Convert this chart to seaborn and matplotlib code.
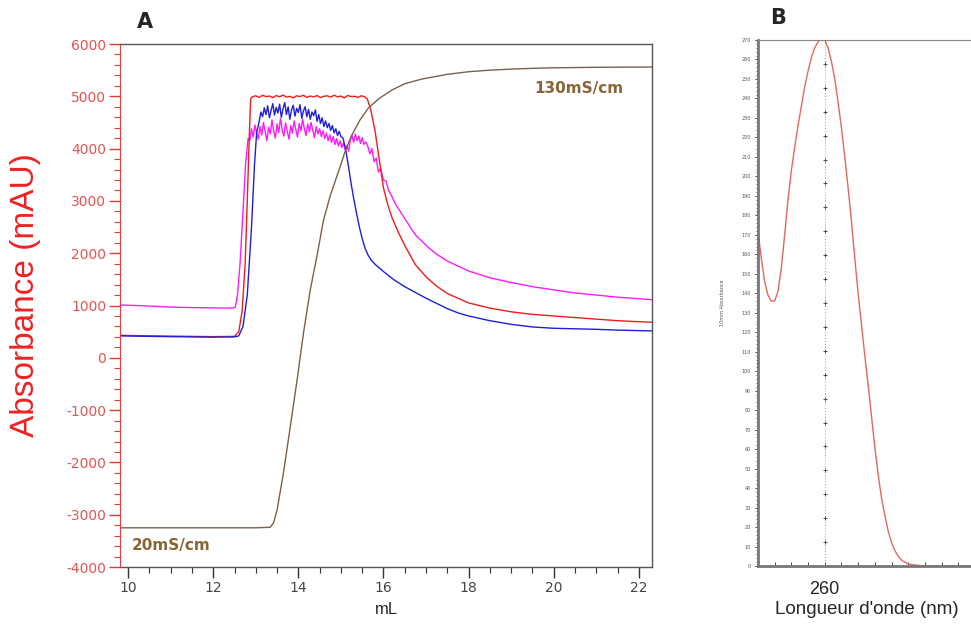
import numpy as np
import pandas as pd
import matplotlib
matplotlib.use("Agg")
import matplotlib.pyplot as plt
from matplotlib.ticker import MultipleLocator
import seaborn as sns

# ---- panel A : chromatogram (mL vs mAU) ----
red_x = [9.81, 10.5, 11.0, 11.5, 12.0, 12.5, 12.6, 12.68, 12.75, 12.8, 12.85, 12.88]
red_y = [430, 420, 415, 410, 405, 410, 500, 900, 1800, 3000, 4300, 4950]
red_plateau = [4990, 5010, 4980, 5020, 4995, 5005, 4975, 5015, 4990, 5025, 4985, 5000,
               4970, 5010, 4995, 5020, 4980, 5005, 4990, 5015, 4975, 5000, 5010, 4985,
               5020, 4990, 5005, 4970, 5015, 4995, 5000, 4980, 5010, 4990]
red_tail_x = [15.62, 15.7, 15.8, 15.9, 16.0, 16.1, 16.2, 16.35, 16.5, 16.75, 17.0, 17.25,
              17.5, 18.0, 18.5, 19.0, 19.5, 20.0, 20.5, 21.0, 21.5, 22.0, 22.31]
red_tail_y = [4950, 4750, 4350, 3800, 3250, 2930, 2680, 2400, 2150, 1780, 1550, 1370,
              1230, 1050, 950, 880, 830, 800, 770, 740, 710, 690, 680]

blue_x = [9.81, 10.5, 11.0, 11.5, 12.0, 12.5, 12.6, 12.7, 12.8, 12.9, 12.97, 13.02]
blue_y = [420, 410, 405, 400, 395, 400, 420, 600, 1200, 2500, 3700, 4300]
blue_plateau = [4520, 4700, 4610, 4780, 4650, 4820, 4590, 4730, 4860, 4640, 4790, 4680,
                4850, 4600, 4760, 4880, 4650, 4800, 4560, 4740, 4830, 4620, 4770, 4690,
                4840, 4580, 4720, 4800, 4610, 4750, 4560, 4700, 4630, 4740, 4520, 4650,
                4480, 4590, 4420, 4530, 4400, 4480, 4350, 4440, 4300, 4380, 4250, 4330, 4230]
blue_tail_x = [15.05, 15.12, 15.18, 15.24, 15.3, 15.37, 15.44, 15.5, 15.57, 15.64, 15.72,
               15.8, 15.9, 16.0, 16.25, 16.5, 16.75, 17.0, 17.25, 17.5, 17.75, 18.0, 18.5,
               19.0, 19.5, 20.0, 20.5, 21.0, 21.5, 22.0, 22.31]
blue_tail_y = [4200, 3950, 3650, 3330, 3050, 2750, 2480, 2280, 2090, 1960, 1860, 1790,
               1720, 1650, 1490, 1360, 1250, 1140, 1040, 940, 860, 800, 710, 640, 590,
               565, 555, 545, 530, 520, 515]

mag_x = [9.81, 10.2, 10.5, 11.0, 11.5, 12.0, 12.45, 12.52, 12.57, 12.63, 12.7, 12.76, 12.82]
mag_y = [1010, 1000, 990, 970, 960, 955, 950, 970, 1200, 1800, 2800, 3700, 4200]
mag_plateau = [4150, 4380, 4220, 4450, 4300, 4180, 4420, 4260, 4500, 4330, 4150, 4410,
               4280, 4550, 4350, 4200, 4470, 4310, 4580, 4360, 4240, 4490, 4330, 4180,
               4440, 4290, 4530, 4370, 4220, 4480, 4340, 4560, 4380, 4250, 4470, 4320,
               4500, 4350, 4210, 4420, 4280, 4380, 4230, 4340, 4190, 4300, 4150, 4260,
               4120, 4230, 4080, 4190, 4050, 4150, 4020, 4100, 3980, 4060, 3950, 4150,
               4250, 4120, 4280, 4150, 4240, 4100, 4210, 4080, 4130]
mag_tail_x = [15.63, 15.68, 15.73, 15.78, 15.83, 15.88, 15.93, 16.0, 16.06, 16.12, 16.2,
              16.3, 16.47, 16.75, 17.04, 17.25, 17.5, 18.0, 18.5, 19.0, 19.5, 20.0, 20.5,
              21.0, 21.5, 22.0, 22.31]
mag_tail_y = [4050, 3900, 4000, 3750, 3820, 3550, 3620, 3400, 3380, 3200, 3080, 2920,
              2700, 2350, 2120, 1980, 1850, 1660, 1530, 1440, 1360, 1300, 1240, 1200,
              1160, 1130, 1110]

cond_x = [9.81, 11.0, 12.0, 13.0, 13.34, 13.42, 13.5, 13.65, 13.81, 13.98, 14.12, 14.28,
          14.45, 14.59, 14.75, 15.0, 15.1, 15.25, 15.45, 15.65, 15.9, 16.2, 16.5, 16.9,
          17.5, 18.0, 18.5, 19.0, 19.5, 20.0, 21.0, 22.31]
cond_y = [-3250, -3250, -3250, -3250, -3240, -3150, -2910, -2200, -1320, -370, 470, 1300,
          2000, 2630, 3100, 3700, 3950, 4250, 4550, 4780, 4960, 5120, 5240, 5330,
          5420, 5470, 5500, 5520, 5535, 5545, 5555, 5560]

# ---- panel B : UV spectrum ----
wl = [220, 222, 224, 226, 228, 230, 232, 234, 236, 238, 240, 242, 244, 246, 248, 250,
      252, 254, 256, 258, 260, 262, 264, 266, 268, 270, 272, 274, 276, 278, 280, 282,
      284, 286, 288, 290, 292, 294, 296, 298, 300, 302, 304, 306, 308, 310, 314, 320, 350]
absorb = [172, 158, 146, 139, 136, 136, 141, 153, 170, 188, 203, 215, 226, 236, 246, 254,
          261, 266, 269, 271, 270, 266, 259, 250, 238, 225, 210, 194, 177, 158, 140, 124,
          108, 93, 77, 61, 47, 35, 26, 18, 12, 8, 5, 3, 2, 1, 0.5, 0, 0]


def series(x0, y0, start, step, plateau, x1, y1):
    px = list(x0) + list(np.round(start + step * np.arange(len(plateau)), 3)) + list(x1)
    py = list(y0) + list(plateau) + list(y1)
    return pd.DataFrame({"mL": px, "mAU": py})


red = series(red_x, red_y, 12.92, 0.08, red_plateau, red_tail_x, red_tail_y)
blue = series(blue_x, blue_y, 13.08, 0.04, blue_plateau, blue_tail_x, blue_tail_y)
mag = series(mag_x, mag_y, 12.86, 0.04, mag_plateau, mag_tail_x, mag_tail_y)
cond = pd.DataFrame({"mL": cond_x, "mAU": cond_y})

sns.set_style("white")
plt.rcParams['font.family'] = ['DejaVu Sans']
plt.rcParams['axes.unicode_minus'] = False

fig = plt.figure(figsize=(9.71, 6.26), dpi=100)
axA = fig.add_axes([0.1236, 0.0942, 0.5479, 0.8355])
axB = fig.add_axes([0.7806, 0.0958, 0.2235, 0.8403])

for df, col in [(mag, "#ff1aff"), (red, "#ee1c1c"), (blue, "#1f1fd8"), (cond, "#7a6148")]:
    sns.lineplot(data=df, x="mL", y="mAU", ax=axA, color=col, lw=1.0,
                 sort=False, estimator=None)

axA.set_xlim(9.81, 22.31)
axA.set_ylim(-4000, 6000)
axA.xaxis.set_major_locator(MultipleLocator(2))
axA.xaxis.set_minor_locator(MultipleLocator(0.5))
axA.yaxis.set_major_locator(MultipleLocator(1000))
axA.yaxis.set_minor_locator(MultipleLocator(200))
axA.tick_params(axis="both", which="major", direction="out", length=8, width=1,
                labelsize=10, bottom=True, left=True, pad=2)
axA.tick_params(axis="both", which="minor", direction="out", length=4.5, width=0.8,
                bottom=True, left=True)
axA.tick_params(axis="y", which="both", colors="#e83a3a", labelcolor="#e05555")
axA.tick_params(axis="x", which="both", colors="#333333", labelcolor="#444444")
for s in ["top", "right", "bottom"]:
    axA.spines[s].set_color("#555555")
    axA.spines[s].set_linewidth(1.0)
axA.spines["left"].set_color("#e83a3a")
axA.set_xlabel("mL", fontsize=12, family="Liberation Sans", labelpad=5)
axA.set_ylabel("Absorbance (mAU)", fontsize=24, color="#ee2222",
               family="Liberation Sans")
axA.yaxis.set_label_coords(-0.148, 0.52)
axA.text(20.59, 5140, "130mS/cm", color="#8a6433", fontsize=11, fontweight="bold",
         ha="center", va="center")
axA.text(10.09, -3580, "20mS/cm", color="#8a6433", fontsize=11, fontweight="bold",
         ha="left", va="center")

# panel B
dfB = pd.DataFrame({"nm": wl, "abs": absorb})
sns.lineplot(data=dfB, x="nm", y="abs", ax=axB, color="#e06a5e", lw=1.0)
marks = pd.DataFrame({"nm": [260] * 23, "abs": np.linspace(0, 270, 23)})
axB.plot([260, 260], [0, 270], ls=(0, (1, 2.5)), color="#777777", lw=0.6)
sns.scatterplot(data=marks, x="nm", y="abs", ax=axB, marker="+", color="#333333",
                s=8, linewidth=0.6)
axB.set_xlim(220, 350)
axB.set_ylim(0, 270)
axB.set_xticks(list(range(230, 350, 10)))
axB.set_xticklabels(["260" if t == 260 else "" for t in range(230, 350, 10)])
axB.yaxis.set_major_locator(MultipleLocator(10))
axB.yaxis.set_minor_locator(MultipleLocator(2))
axB.tick_params(axis="y", which="major", direction="out", length=2, width=0.6,
                labelsize=3.5, labelcolor="#555555", left=True, pad=3)
axB.tick_params(axis="y", which="minor", direction="out", length=1.2, width=0.5, left=True)
axB.tick_params(axis="x", which="major", direction="in", length=3, width=0.6,
                labelsize=13, bottom=True, pad=11)
for s in ["left", "bottom"]:
    axB.spines[s].set_color("#777777")
    axB.spines[s].set_linewidth(2.0)
axB.spines["top"].set_color("#888888")
axB.spines["right"].set_visible(False)
axB.set_xlabel("Longueur d'onde (nm)", fontsize=13.5, family="Liberation Sans", labelpad=2)
axB.set_ylabel("10mm Absorbance", fontsize=3.5, color="#555555", labelpad=12)
for lab in axB.get_xticklabels():
    lab.set_family("Liberation Sans")

fig.text(145 / 971, 1 - 22 / 626, "A", fontsize=15, fontweight="bold", ha="center", va="center")
fig.text(778 / 971, 1 - 18 / 626, "B", fontsize=15, fontweight="bold", ha="center", va="center")

fig.savefig("out.png", dpi=100)
